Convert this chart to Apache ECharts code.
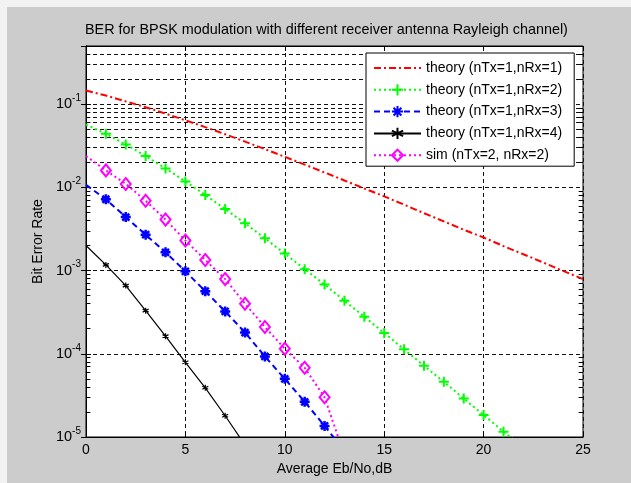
<!DOCTYPE html>
<html><head><meta charset="utf-8">
<script src="https://cdn.jsdelivr.net/npm/echarts@6/dist/echarts.min.js"></script>
<style>html,body{margin:0;padding:0;background:#cccccc}#c{width:631px;height:483px}</style>
</head><body><div id="c"></div>
<script>
// ---- data ----
const ebnoDb = [0,1,2,3,4,5,6,7,8,9,10,11,12,13,14,15,16,17,18,19,20,21,22,23,24,25];
const berNRx1 = [0.146,0.127,0.108,0.092,0.077,0.064,0.053,0.0435,0.0355,0.0288,0.0233,0.0188,0.0151,0.0121,0.0097,0.0078,0.0062,0.0049,0.0039,0.0031,0.0025,0.00197,0.00157,0.00125,0.00099,0.00079];
const berNRx2 = [0.057,0.044,0.0328,0.0238,0.0169,0.0118,0.0081,0.0055,0.0037,0.00244,0.0016,0.00104,0.00068,0.000434,0.000279,0.000178,0.000113,0.000072,0.000046,0.000029,0.0000184,0.0000116,0.0000074,0.0000047,0.00000295,0.00000187];
const berNRx3 = [0.0107,0.0072,0.0044,0.0027,0.00166,0.00098,0.000565,0.000323,0.00018,0.000093,0.00005,0.0000265,0.0000136,0.0000068];
const berNRx4 = [0.0020,0.00117,0.00066,0.00033,0.000163,0.000079,0.000039,0.000018,0.000008];
const berSim22 = [0.0238,0.016,0.0110,0.0069,0.0041,0.0023,0.00134,0.00079,0.0004,0.00021,0.000115,0.000068,0.00003,0.000006];
const seriesNames = ['theory (nTx=1,nRx=1)','theory (nTx=1,nRx=2)','theory (nTx=1,nRx=3)','theory (nTx=1,nRx=4)','sim (nTx=2, nRx=2)'];
const xTickValues = [0,5,10,15,20,25];
const yMin = 1e-5, yMax = 0.5;
const minorY = [];
for (let e = -5; e <= -1; e++) for (let m = 2; m <= 9; m++) { const v = m * Math.pow(10, e); if (v < yMax) minorY.push(v); }

const FONT = 'Liberation Sans, Arial, Helvetica, sans-serif';
const FS = 14;
function pts(ys) {
  return ys.map((y, i) => i === 0 ? { value: [ebnoDb[i], y], symbol: 'none' } : [ebnoDb[i], y]);
}
const PLUS = 'path://M0,-5L0,5M-5,0L5,0';
const STAR = 'path://M0,-5L0,5M-5,0L5,0M-3.5,-3.5L3.5,3.5M-3.5,3.5L3.5,-3.5';
const XMARK = 'path://M0,-5L0,5M-4.3,-2.5L4.3,2.5M-4.3,2.5L4.3,-2.5';
const DASH = [4, 3];
const GRIDCOL = '#111';

const tickLenX = 0.22;
const minorLines = [];
minorY.forEach(v => {
  minorLines.push({ yAxis: v });
  minorLines.push([{ coord: [0, v], lineStyle: { type: 'solid', color: '#000' } }, { coord: [tickLenX, v] }]);
  minorLines.push([{ coord: [25 - tickLenX, v], lineStyle: { type: 'solid', color: '#000' } }, { coord: [25, v] }]);
});

const chart = echarts.init(document.getElementById('c'), null, { renderer: 'canvas' });
chart.setOption({
  backgroundColor: '#cccccc',
  animation: false,
  graphic: [
    { type: 'rect', left: 0, top: 0, shape: { width: 631, height: 7 }, style: { fill: '#f2f2f2' }, z: -10 },
    { type: 'rect', left: 0, top: 0, shape: { width: 7, height: 483 }, style: { fill: '#f2f2f2' }, z: -10 }
  ],
  title: {
    text: 'BER for BPSK modulation with different receiver antenna Rayleigh channel)',
    left: 85, top: 23, padding: 0,
    textStyle: { fontFamily: FONT, fontSize: 14.4, fontWeight: 'normal', color: '#000' }
  },
  grid: { left: 86, top: 46, width: 497, height: 391, show: true, backgroundColor: '#fff', borderColor: '#000', borderWidth: 1 },
  legend: {
    data: seriesNames,
    orient: 'vertical', left: 366, top: 53,
    backgroundColor: '#fff', borderColor: '#000', borderWidth: 1,
    padding: [8, 12, 4, 7],
    itemWidth: 47, itemHeight: 14, itemGap: 7.8,
    textStyle: { fontFamily: FONT, fontSize: FS, color: '#000' }
  },
  xAxis: [{
    type: 'value', min: 0, max: 25, interval: 5,
    name: 'Average Eb/No,dB', nameLocation: 'middle', nameGap: 25,
    nameTextStyle: { fontFamily: FONT, fontSize: FS, color: '#000' },
    axisLine: { show: true, lineStyle: { color: '#000', width: 1 } },
    axisTick: { show: true, inside: true, length: 5, lineStyle: { color: '#000' } },
    axisLabel: { fontFamily: FONT, fontSize: FS, color: '#000', margin: 6 },
    splitLine: { show: true, lineStyle: { type: DASH, color: GRIDCOL, width: 1 } }
  }, {
    type: 'value', min: 0, max: 25, interval: 5, position: 'top',
    axisLine: { show: true, lineStyle: { color: '#000' } },
    axisTick: { show: true, inside: true, length: 5, lineStyle: { color: '#000' } },
    axisLabel: { show: false }, splitLine: { show: false }
  }],
  yAxis: [{
    type: 'log', logBase: 10, min: yMin, max: yMax,
    name: 'Bit Error Rate', nameLocation: 'middle', nameGap: 39,
    nameTextStyle: { fontFamily: FONT, fontSize: FS, color: '#000' },
    axisLine: { show: true, lineStyle: { color: '#000', width: 1 } },
    axisTick: { show: true, inside: true, length: 5, lineStyle: { color: '#000' } },
    axisLabel: {
      margin: 5, color: '#000',
      formatter: function (v) {
        const e = Math.round(Math.log10(v));
        if (Math.abs(v - Math.pow(10, e)) / Math.pow(10, e) > 1e-6) return '';
        return '{b|10}{s|' + e + '}';
      },
      rich: {
        b: { fontFamily: FONT, fontSize: 14.5, color: '#000', verticalAlign: 'middle' },
        s: { fontFamily: FONT, fontSize: 10, color: '#000', verticalAlign: 'bottom', padding: [0, 0, 12, 0] }
      }
    },
    splitLine: { show: true, lineStyle: { type: DASH, color: GRIDCOL, width: 1 } }
  }, {
    type: 'log', logBase: 10, min: yMin, max: yMax, position: 'right',
    axisLine: { show: true, lineStyle: { color: '#000' } },
    axisTick: { show: true, inside: true, length: 5, lineStyle: { color: '#000' } },
    axisLabel: { show: false }, splitLine: { show: false }
  }],
  series: [
    {
      name: 'grid-helper', type: 'line', data: [], silent: true, z: 1,
      markLine: {
        silent: true, symbol: ['none', 'none'], z: 1, animation: false,
        label: { show: false },
        lineStyle: { type: DASH, color: GRIDCOL, width: 1 },
        emphasis: { disabled: true },
        data: minorLines
      }
    },
    {
      name: seriesNames[0], type: 'line', data: pts(berNRx1), showSymbol: false, symbol: 'circle', symbolSize: 1, z: 3,
      lineStyle: { color: '#ff0000', width: 2, type: [7, 3, 2, 3] },
      itemStyle: { color: 'rgba(0,0,0,0)', borderColor: 'rgba(0,0,0,0)' }
    },
    {
      name: seriesNames[1], type: 'line', data: pts(berNRx2), symbol: PLUS, symbolSize: 10, z: 3,
      lineStyle: { color: '#00ff00', width: 2, type: [2, 3] },
      itemStyle: { color: 'rgba(0,0,0,0)', borderColor: '#00ff00', borderWidth: 2 }
    },
    {
      name: seriesNames[2], type: 'line', data: pts(berNRx3), symbol: STAR, symbolSize: 10, z: 3,
      lineStyle: { color: '#0000ff', width: 2, type: [6, 4] },
      itemStyle: { color: 'rgba(0,0,0,0)', borderColor: '#0000ff', borderWidth: 2.5 }
    },
    {
      name: seriesNames[3], type: 'line', data: pts(berNRx4), symbol: XMARK, symbolSize: 6, z: 3,
      lineStyle: { color: '#000000', width: 1.2, type: 'solid' },
      itemStyle: { color: 'rgba(0,0,0,0)', borderColor: '#000000', borderWidth: 1.2 }
    },
    {
      name: seriesNames[4], type: 'line', data: pts(berSim22), symbol: 'diamond', symbolSize: [10, 12], z: 3,
      lineStyle: { color: '#ff00ff', width: 2, type: [2, 3] },
      itemStyle: { color: 'rgba(0,0,0,0)', borderColor: '#ff00ff', borderWidth: 2 }
    }
  ]
});
</script></body></html>
